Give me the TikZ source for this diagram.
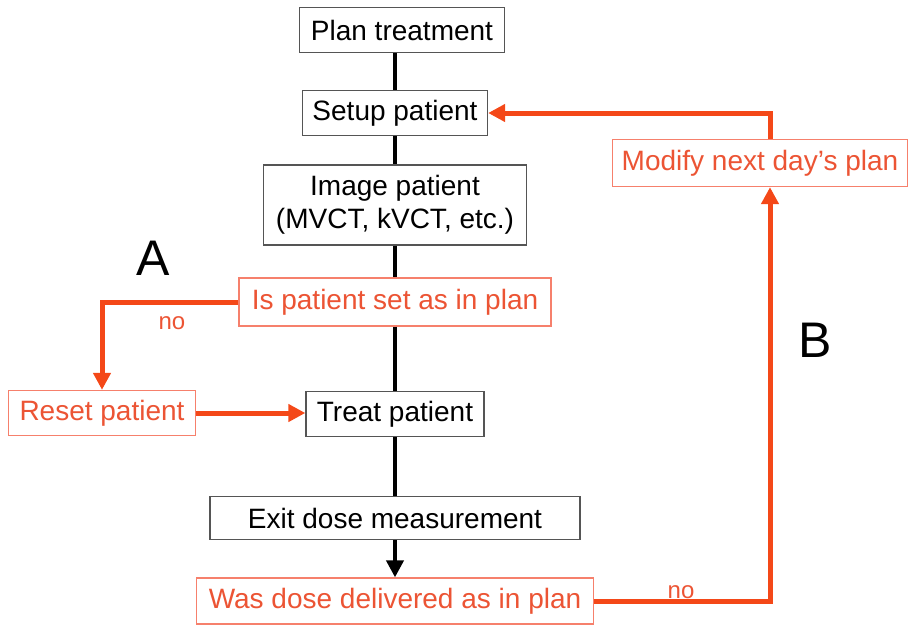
\documentclass[tikz,border=0pt]{standalone}
\usepackage{fontspec}
\setmainfont{Liberation Sans}
\usetikzlibrary{arrows.meta}
\definecolor{alertred}{RGB}{244,72,24}
\definecolor{alerttext}{RGB}{236,84,52}
\definecolor{alertline}{RGB}{246,128,108}
\definecolor{boxline}{RGB}{85,85,85}
\begin{document}
\begin{tikzpicture}[x=1pt, y=-1pt,
    stepbox/.style={draw=boxline, line width=1.3pt, fill=white, inner sep=0pt,
      minimum height=45pt, align=center, font=\fontsize{28}{33}\selectfont},
    askbox/.style={stepbox, draw=alertline, text=alerttext},
    flow/.style={line width=4pt, black},
    flowarrow/.style={flow, -{Triangle[length=17pt, width=17pt]}},
    back/.style={line width=5pt, alertred, -{Triangle[length=17pt, width=17pt]}},
    tag/.style={text=alerttext, font=\fontsize{24}{28}\selectfont},
    bigtag/.style={font=\fontsize{50}{58}\selectfont}]
  \useasboundingbox (0,0) rectangle (911,627);
  % Main sequence
  \node[stepbox, minimum width=205pt] (plan) at (402,30) {Plan treatment};
  \node[stepbox, minimum width=185pt] (setup) at (395,113) {Setup patient};
  \node[stepbox, minimum width=263pt, minimum height=80pt] (image) at (395,205)
    {Image patient\\(MVCT, kVCT, etc.)};
  \node[askbox, minimum width=312pt, minimum height=48pt] (ask) at (395,302)
    {Is patient set as in plan};
  \node[stepbox, minimum width=178pt] (treat) at (395,414) {Treat patient};
  \node[stepbox, minimum width=370pt, minimum height=43pt] (exit) at (395,518)
    {Exit dose measurement};
  \node[askbox, minimum width=397pt, minimum height=46pt] (check) at (395,601)
    {Was dose delivered as in plan};
  % Side boxes
  \node[askbox, minimum width=187pt] (reset) at (102,413) {Reset patient};
  \node[askbox, minimum width=295pt, minimum height=47pt] (modify) at (760,163)
    {Modify next day's plan};
  % Black connectors
  \draw[flow] (setup.north) -- (setup.north |- plan.south);
  \draw[flow] (setup) -- (image);
  \draw[flow] (image) -- (ask);
  \draw[flow] (ask) -- (treat);
  \draw[flow] (treat) -- (exit);
  \draw[flowarrow] (exit) -- (check);
  % Correction loops
  \draw[back] (ask.west) -| (reset.north);
  \draw[back] (reset.east) -- (reset.east -| treat.west);
  \draw[back] (check.east) -| ([xshift=10pt]modify.south);
  \draw[back] ([xshift=10pt]modify.north) |- (setup.east);
  % Labels
  \node[tag] (noA) at (172,323) {no};
  \node[tag] (noB) at (681,592) {no};
  \node[bigtag] (loopA) at (153,258) {A};
  \node[bigtag] (loopB) at (815,340) {B};
\end{tikzpicture}
\end{document}
